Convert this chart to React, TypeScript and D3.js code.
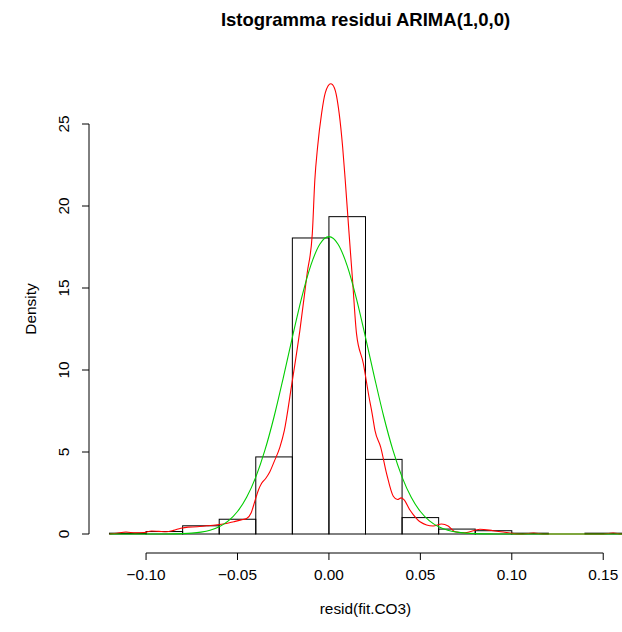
import React from "react";
import * as d3 from "d3";

// Histogram breaks and densities
const breaks = [-0.12, -0.10, -0.08, -0.06, -0.04, -0.02, 0, 0.02, 0.04, 0.06, 0.08, 0.10, 0.12, 0.14, 0.16];
const densities = [0.05, 0.15, 0.5, 0.9, 4.7, 18.05, 19.35, 4.55, 1.0, 0.3, 0.2, 0.05, 0, 0.05];

// Kernel density curve (red)
const kdeX = [-0.12, -0.116, -0.111, -0.106, -0.101, -0.097, -0.093, -0.089, -0.085, -0.081, -0.077, -0.072, -0.067, -0.062, -0.057, -0.052, -0.048, -0.045, -0.0425, -0.0405, -0.0385, -0.0368, -0.0345, -0.0323, -0.030, -0.0268, -0.0244, -0.0205, -0.0159, -0.0119, -0.0091, -0.0077, -0.0062, -0.004, -0.002, 0.001, 0.003, 0.0056, 0.0075, 0.0089, 0.0109, 0.0129, 0.0151, 0.0188, 0.0219, 0.0237, 0.0252, 0.0283, 0.0315, 0.0352, 0.0375, 0.0395, 0.041, 0.0443, 0.046, 0.0498, 0.057, 0.0616, 0.0652, 0.0689, 0.0744, 0.0826, 0.0898, 0.0953, 0.100, 0.106, 0.112, 0.117, 0.150, 0.1555, 0.160, 0.170];
const kdeY = [0.0, 0.05, 0.12, 0.07, 0.09, 0.18, 0.16, 0.14, 0.22, 0.35, 0.42, 0.44, 0.50, 0.55, 0.62, 0.75, 0.86, 0.95, 1.3, 2.0, 2.7, 3.1, 3.4, 3.8, 4.4, 5.3, 6.3, 9.0, 12.4, 15.9, 18.3, 21.6, 23.6, 25.65, 26.9, 27.45, 27.2, 25.65, 23.6, 21.6, 18.5, 15.5, 12.2, 10.4, 8.37, 7.3, 6.3, 5.3, 3.7, 2.3, 2.1, 2.2, 2.1, 1.46, 1.2, 0.75, 0.49, 0.61, 0.49, 0.14, 0.08, 0.29, 0.2, 0.12, 0.04, 0.0, 0.06, 0.0, 0.0, 0.06, 0.0, 0.0];

// Normal curve (green)
const normX = [-0.12, -0.115, -0.11, -0.105, -0.10, -0.095, -0.09, -0.085, -0.08, -0.075, -0.07, -0.065, -0.06, -0.055, -0.05, -0.045, -0.04, -0.035, -0.03, -0.025, -0.02, -0.015, -0.01, -0.005, 0, 0.005, 0.01, 0.015, 0.02, 0.025, 0.03, 0.035, 0.04, 0.045, 0.05, 0.055, 0.06, 0.065, 0.07, 0.075, 0.08, 0.085, 0.09, 0.095, 0.10, 0.12, 0.14, 0.16, 0.17];
const normY = [0, 0, 0, 0, 0.0005, 0.001, 0.004, 0.01, 0.024, 0.054, 0.115, 0.23, 0.44, 0.80, 1.37, 2.24, 3.47, 5.11, 7.15, 9.51, 11.99, 14.37, 16.35, 17.67, 18.13, 17.67, 16.35, 14.37, 11.99, 9.51, 7.15, 5.11, 3.47, 2.24, 1.37, 0.80, 0.44, 0.23, 0.115, 0.054, 0.024, 0.01, 0.004, 0.001, 0.0005, 0, 0, 0, 0];

const xTicks = [-0.10, -0.05, 0.0, 0.05, 0.10, 0.15];
const yTicks = [0, 5, 10, 15, 20, 25];

const title = "Istogramma residui ARIMA(1,0,0)";
const xLabel = "resid(fit.CO3)";
const yLabel = "Density";

const W = 622;
const H = 632;
const FONT = "'Liberation Sans', Arial, Helvetica, sans-serif";

export default function App() {
  const x = d3.scaleLinear().domain([-0.1312, 0.1712]).range([89, 642]);
  const y = d3.scaleLinear().domain([0, 25]).range([534, 124]);

  const line = d3
    .line<[number, number]>()
    .x((d) => x(d[0]))
    .y((d) => y(d[1]))
    .curve(d3.curveMonotoneX);

  const kde: [number, number][] = kdeX.map((v, i) => [v, kdeY[i]]);
  const norm: [number, number][] = normX.map((v, i) => [v, normY[i]]);

  const fmtX = (v: number) => {
    const s = v.toFixed(2);
    return s.startsWith("-") ? "\u2212" + s.slice(1) : s;
  };

  const axisY = 553;
  const axisX = 89;

  return (
    <svg
      width={W}
      height={H}
      style={{ position: "absolute", left: 0, top: 0, background: "#fff" }}
      fontFamily={FONT}
    >
      <rect x={0} y={0} width={W} height={H} fill="#fff" />
      <text x={365.5} y={26} textAnchor="middle" fontSize={18.5} fontWeight="bold" fill="#000">
        {title}
      </text>

      {/* histogram bars */}
      {densities.map((d, i) => (
        <rect
          key={i}
          x={x(breaks[i])}
          y={y(d)}
          width={x(breaks[i + 1]) - x(breaks[i])}
          height={y(0) - y(d)}
          fill="none"
          stroke="#000"
          strokeWidth={1}
        />
      ))}

      <path d={line(kde) || ""} fill="none" stroke="#FF0000" strokeWidth={1.1} />
      <path d={line(norm) || ""} fill="none" stroke="#00CD00" strokeWidth={1.1} />

      {/* x axis */}
      <line x1={x(xTicks[0])} x2={x(xTicks[xTicks.length - 1])} y1={axisY} y2={axisY} stroke="#000" />
      {xTicks.map((t) => (
        <g key={t}>
          <line x1={x(t)} x2={x(t)} y1={axisY} y2={axisY + 7} stroke="#000" />
          <text x={x(t)} y={580} textAnchor="middle" fontSize={15.4} fill="#000">
            {fmtX(t)}
          </text>
        </g>
      ))}
      <text x={365.5} y={614} textAnchor="middle" fontSize={15.4} fill="#000">
        {xLabel}
      </text>

      {/* y axis */}
      <line x1={axisX} x2={axisX} y1={y(yTicks[0])} y2={y(yTicks[yTicks.length - 1])} stroke="#000" />
      {yTicks.map((t) => (
        <g key={t}>
          <line x1={axisX} x2={axisX - 7} y1={y(t)} y2={y(t)} stroke="#000" />
          <text
            transform={`translate(68.5,${y(t)}) rotate(-90)`}
            textAnchor="middle"
            fontSize={15.4}
            fill="#000"
          >
            {t}
          </text>
        </g>
      ))}
      <text transform={`translate(36,309) rotate(-90)`} textAnchor="middle" fontSize={15.4} fill="#000">
        {yLabel}
      </text>
    </svg>
  );
}
